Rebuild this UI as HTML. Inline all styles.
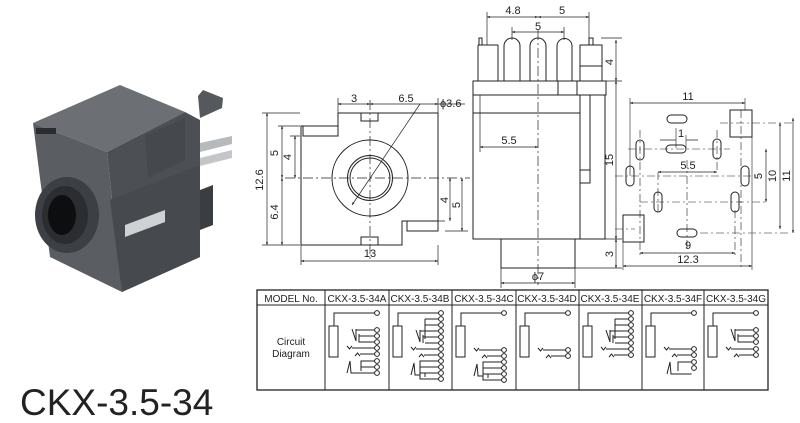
<!DOCTYPE html>
<html><head><meta charset="utf-8"><style>
html,body{margin:0;padding:0;background:#fff;}
svg{display:block;}
text{font-family:"Liberation Sans",Arial,sans-serif;fill:#222;}
</style></head><body>
<svg width="800" height="423" viewBox="0 0 800 423" xmlns="http://www.w3.org/2000/svg">
<defs>
<marker id="ar" viewBox="0 0 10 10" refX="10" refY="5" markerWidth="6" markerHeight="4" orient="auto-start-reverse"><path d="M0,1 L10,5 L0,9 Z" fill="#222"/></marker>
<g id="top" fill="none" stroke="#222" stroke-width="1">
<rect x="4" y="326" width="9" height="31"/>
<path d="M9,326 V313 H49.5"/>
<circle cx="52" cy="313" r="2.4"/>
</g>
<g id="va" fill="none" stroke="#222" stroke-width="1">
<path d="M22,-2 L24.5,1 L27,-2 M27,0 H49.6"/>
<path d="M30,8 L32.5,5 L35,8 M35,6 H49.6"/>
<circle cx="52" cy="0" r="2.4"/><circle cx="52" cy="6" r="2.4"/>
</g>
<g id="vg3" fill="none" stroke="#222" stroke-width="1">
<path d="M27,-1 L31,11 L31,-1 M31,0 H49.6 M34,10 V4 M34,6 H49.6 M34,5 V12 H49.6"/>
<circle cx="52" cy="0" r="2.4"/><circle cx="52" cy="6" r="2.4"/><circle cx="52" cy="12" r="2.4"/>
</g>
<g id="vg5" fill="none" stroke="#222" stroke-width="1">
<path d="M27,11 L31,23 L31,11 M31,12 H49.6 M36,0 H49.6 M36,0 V20 M34,18 H49.6 M36,6 H49.6 M36,24 H49.6 M34,16 V24"/>
<circle cx="52" cy="0" r="2.4"/><circle cx="52" cy="6" r="2.4"/><circle cx="52" cy="12" r="2.4"/><circle cx="52" cy="18" r="2.4"/><circle cx="52" cy="24" r="2.4"/>
</g>
<g id="tri2" fill="none" stroke="#222" stroke-width="1">
<path d="M25,12 L28,0 L29,12 H49.6 M36,9 V0 H49.6"/>
<circle cx="52" cy="0" r="2.4"/><circle cx="52" cy="6" r="2.4"/>
</g>
<g id="tri3" fill="none" stroke="#222" stroke-width="1">
<path d="M22,12 L25,0 L26,12 H49.6 M36,10 V0 H49.6 M36,6 H49.6"/>
<circle cx="52" cy="0" r="2.4"/><circle cx="52" cy="6" r="2.4"/><circle cx="52" cy="12" r="2.4"/>
</g>
<g id="tri4" fill="none" stroke="#222" stroke-width="1">
<path d="M22,14 L25,2 L26,14 H31 M31,14 V0 H49.6 M31,6 H49.6 M31,12 H49.6 M31,14 V18 H49.6 M36,12 V16"/>
<circle cx="52" cy="0" r="2.4"/><circle cx="52" cy="6" r="2.4"/><circle cx="52" cy="12" r="2.4"/><circle cx="52" cy="18" r="2.4"/>
</g>
</defs>

<!-- Photo -->
<g>
<polygon points="198,96 203,90 223,98 222,108 200,118" fill="#55585c"/>
<polygon points="33,123 120,85 185,112 107,152" fill="#6c6f74"/>
<polygon points="107,152 185,112 200,120 200,257 122,292" fill="#4c4f54"/>
<polygon points="33,123 107,152 122,292 50,257" fill="#5a5d62"/>
<polygon points="145,135 185,118 185,160 148,178" fill="#45484c"/>
<polygon points="110,200 200,165 200,257 122,292" fill="#46494e"/>
<polygon points="125,225 165,210 165,222 125,237" fill="#cfd2d5"/>
<polygon points="200,143 232,136 232,144 200,152" fill="#b7babd"/>
<polygon points="200,158 232,150 232,158 200,166" fill="#c4c6c9"/>
<polygon points="200,190 213,185 213,225 200,230" fill="#3a3d41"/>
<rect x="36" y="128" width="20" height="6" fill="#2a2c30"/>
<ellipse cx="67" cy="215" rx="32" ry="38" fill="#3c3f43"/>
<ellipse cx="65" cy="215" rx="23" ry="29" fill="#2b2d31"/>
<ellipse cx="62" cy="215" rx="14" ry="20" fill="#0d0e10"/>
</g>
<text x="20" y="415" font-size="37">CKX-3.5-34</text>

<!-- Front view -->
<g fill="none" stroke="#222" stroke-width="1">
<path d="M301,126 H338 V113 H438 V221 H402 V245 H301 Z"/>
<rect x="303" y="126" width="35" height="10"/>
<rect x="407" y="221" width="31" height="10"/>
<rect x="361" y="113" width="17" height="8"/>
<rect x="361" y="237" width="17" height="8"/>
<circle cx="370" cy="178" r="38"/>
<circle cx="370" cy="178" r="22.5"/>
<circle cx="370" cy="178" r="20"/>
<path d="M285,178 H470 M370,100 V260" stroke-dasharray="10,3,2,3" stroke-width="0.7"/>
<path d="M420,104 L352,205" stroke-width="0.7" marker-end="url(#ar)"/>
<path d="M262,113 H300 M262,245 H300 M278,126 H300 M290,136 H300 M445,221 H438 M445,231 H468 M338,98 V113 M438,98 V113 M301,245 V265 M438,245 V265" stroke-width="0.7"/>
<path d="M267,113 V245" stroke-width="0.7" marker-start="url(#ar)" marker-end="url(#ar)"/>
<path d="M282,126 V178" stroke-width="0.7" marker-start="url(#ar)" marker-end="url(#ar)"/>
<path d="M282,178 V245" stroke-width="0.7" marker-start="url(#ar)" marker-end="url(#ar)"/>
<path d="M295,136 V178" stroke-width="0.7" marker-start="url(#ar)" marker-end="url(#ar)"/>
<path d="M450,178 V221" stroke-width="0.7" marker-start="url(#ar)" marker-end="url(#ar)"/>
<path d="M462,178 V231" stroke-width="0.7" marker-start="url(#ar)" marker-end="url(#ar)"/>
<path d="M338,104 H370" stroke-width="0.7" marker-start="url(#ar)" marker-end="url(#ar)"/>
<path d="M370,104 H438" stroke-width="0.7" marker-start="url(#ar)" marker-end="url(#ar)"/>
<path d="M438,104 H465" stroke-width="0.7"/>
<path d="M301,261 H438" stroke-width="0.7" marker-start="url(#ar)" marker-end="url(#ar)"/>
</g>
<g font-size="11">
<text x="354" y="102" text-anchor="middle">3</text>
<text x="406" y="102" text-anchor="middle">6.5</text>
<text x="440" y="107">ϕ3.6</text>
<text x="370" y="257" text-anchor="middle">13</text>
<text transform="translate(263,180) rotate(-90)" text-anchor="middle">12.6</text>
<text transform="translate(278,153) rotate(-90)" text-anchor="middle">5</text>
<text transform="translate(278,212) rotate(-90)" text-anchor="middle">6.4</text>
<text transform="translate(291,157) rotate(-90)" text-anchor="middle">4</text>
<text transform="translate(448,200) rotate(-90)" text-anchor="middle">4</text>
<text transform="translate(460,205) rotate(-90)" text-anchor="middle">5</text>
</g>

<!-- Side view -->
<g fill="none" stroke="#222" stroke-width="1">
<path d="M478,45 V81 M498,45 V81 M478,45 H498"/>
<rect x="479" y="38" width="3" height="7"/>
<path d="M504,81 V46 A8,8 0 0 1 520,46 V81"/>
<path d="M530,81 V46 A8,8 0 0 1 546,46 V81"/>
<path d="M557,81 V46 A7.5,7.5 0 0 1 572,46 V81"/>
<path d="M580,81 V45 H602 V81 M580,66 H602"/>
<rect x="589" y="38" width="4" height="7"/>
<path d="M473,81 H606 V95 H473 Z"/>
<rect x="558" y="81" width="19" height="14"/>
<path d="M473,95 V239 H605 V95"/>
<path d="M473,113 H580 V239"/>
<path d="M580,95 V113 M590,95 V183 H580 M580,170 H590"/>
<path d="M501,239 V268 H575 V239"/>
<path d="M538,30 V285" stroke-dasharray="10,3,2,3" stroke-width="0.7"/>
<path d="M487,12 V45 M589,12 V38 M512,27 V40 M564,27 V40 M480,95 V152 M601,38 H622 M606,81 H622 M605,239 H622 M575,268 H622 M501,268 V288 M575,268 V288" stroke-width="0.7"/>
<path d="M487,17 H538" stroke-width="0.7" marker-start="url(#ar)" marker-end="url(#ar)"/>
<path d="M538,17 H589" stroke-width="0.7" marker-start="url(#ar)" marker-end="url(#ar)"/>
<path d="M512,32 H564" stroke-width="0.7" marker-start="url(#ar)" marker-end="url(#ar)"/>
<path d="M616,40 V81" stroke-width="0.7" marker-start="url(#ar)" marker-end="url(#ar)"/>
<path d="M616,81 V239" stroke-width="0.7" marker-start="url(#ar)" marker-end="url(#ar)"/>
<path d="M616,239 V268" stroke-width="0.7" marker-start="url(#ar)" marker-end="url(#ar)"/>
<path d="M480,147 H538" stroke-width="0.7" marker-start="url(#ar)" marker-end="url(#ar)"/>
<path d="M501,283 H575" stroke-width="0.7" marker-start="url(#ar)" marker-end="url(#ar)"/>
</g>
<g font-size="11">
<text x="513" y="14" text-anchor="middle">4.8</text>
<text x="562" y="14" text-anchor="middle">5</text>
<text x="538" y="30" text-anchor="middle">5</text>
<text x="509" y="144" text-anchor="middle">5.5</text>
<text x="538" y="280" text-anchor="middle">ϕ7</text>
<text transform="translate(613,62) rotate(-90)" text-anchor="middle">4</text>
<text transform="translate(613,160) rotate(-90)" text-anchor="middle">15</text>
<text transform="translate(613,254) rotate(-90)" text-anchor="middle">3</text>
</g>

<!-- Footprint -->
<g fill="none" stroke="#222" stroke-width="1">
<rect x="730" y="110" width="22" height="27"/>
<rect x="623" y="215" width="21" height="27"/>
<rect x="667" y="115" width="20" height="8" rx="4"/>
<rect x="666" y="145" width="20" height="8" rx="4"/>
<rect x="677" y="229" width="20" height="8" rx="4"/>
<rect x="636" y="140" width="8" height="20" rx="4"/>
<rect x="713" y="139" width="8" height="20" rx="4"/>
<rect x="626" y="166" width="8" height="20" rx="4"/>
<rect x="741" y="166" width="8" height="20" rx="4"/>
<rect x="654" y="192" width="8" height="20" rx="4"/>
<rect x="731" y="192" width="8" height="20" rx="4"/>
<path d="M628,149 H730 M615,176 H760 M640,202 H766 M615,229 H635 M700,233 H790 M720,123 H793 M687,160 V250 M741,110 V270 M640,130 V256 M717,130 V172 M658,172 V212 M735,210 V256" stroke-dasharray="8,3,2,3" stroke-width="0.6"/>
<path d="M630,98 V176 M745,98 V110 M623,242 V270 M752,137 V270 M676,128 V148 M686,135 V148" stroke-width="0.6"/>
<path d="M630,103 H745" stroke-width="0.7" marker-start="url(#ar)" marker-end="url(#ar)"/>
<path d="M640,253 H735" stroke-width="0.7" marker-start="url(#ar)" marker-end="url(#ar)"/>
<path d="M623,266 H752" stroke-width="0.7" marker-start="url(#ar)" marker-end="url(#ar)"/>
<path d="M658,172 H717" stroke-width="0.7" marker-start="url(#ar)" marker-end="url(#ar)"/>
<path d="M660,140 H676 M686,140 H698" stroke-width="0.7"/>
<path d="M766,149 V202" stroke-width="0.7" marker-start="url(#ar)" marker-end="url(#ar)"/>
<path d="M780,123 V229" stroke-width="0.7" marker-start="url(#ar)" marker-end="url(#ar)"/>
<path d="M793,118 V233" stroke-width="0.7" marker-start="url(#ar)" marker-end="url(#ar)"/>
</g>
<g font-size="11">
<text x="688" y="100" text-anchor="middle">11</text>
<text x="681" y="137" text-anchor="middle">1</text>
<text x="688" y="169" text-anchor="middle">5.5</text>
<text x="688" y="249" text-anchor="middle">9</text>
<text x="688" y="263" text-anchor="middle">12.3</text>
<text transform="translate(762,176) rotate(-90)" text-anchor="middle">5</text>
<text transform="translate(776,176) rotate(-90)" text-anchor="middle">10</text>
<text transform="translate(790,176) rotate(-90)" text-anchor="middle">11</text>
</g>

<!-- Table -->
<g fill="none" stroke="#222" stroke-width="1">
<rect x="257" y="290" width="511" height="100" stroke-width="1.3"/>
<path d="M257,305 H768 M325,290 V390 M389,290 V390 M452,290 V390 M516,290 V390 M579,290 V390 M642,290 V390 M704,290 V390"/>
</g>
<g font-size="10" text-anchor="middle">
<text x="291" y="302">MODEL No.</text>
<text x="357" y="302">CKX-3.5-34A</text>
<text x="420" y="302">CKX-3.5-34B</text>
<text x="484" y="302">CKX-3.5-34C</text>
<text x="547" y="302">CKX-3.5-34D</text>
<text x="610" y="302">CKX-3.5-34E</text>
<text x="673" y="302">CKX-3.5-34F</text>
<text x="736" y="302">CKX-3.5-34G</text>
<text x="291" y="345">Circuit</text>
<text x="291" y="357">Diagram</text>
</g>
<g transform="translate(325,0)"><use href="#top"/><use href="#vg3" y="330"/><use href="#va" y="348"/><use href="#tri3" y="361"/></g>
<g transform="translate(389,0)"><use href="#top"/><use href="#vg5" y="319"/><use href="#va" y="349"/><use href="#tri4" y="361"/></g>
<g transform="translate(452,0)"><use href="#top"/><use href="#va" y="350"/><use href="#tri4" y="362"/></g>
<g transform="translate(516,0)"><use href="#top"/><use href="#va" y="350"/></g>
<g transform="translate(579,0)"><use href="#top"/><use href="#vg5" y="319"/><use href="#va" y="349"/></g>
<g transform="translate(642,0)"><use href="#top"/><use href="#va" y="349"/><use href="#tri2" y="362"/></g>
<g transform="translate(704,0)"><use href="#top"/><use href="#vg3" y="330"/><use href="#va" y="349"/></g>
</svg>
</body></html>
